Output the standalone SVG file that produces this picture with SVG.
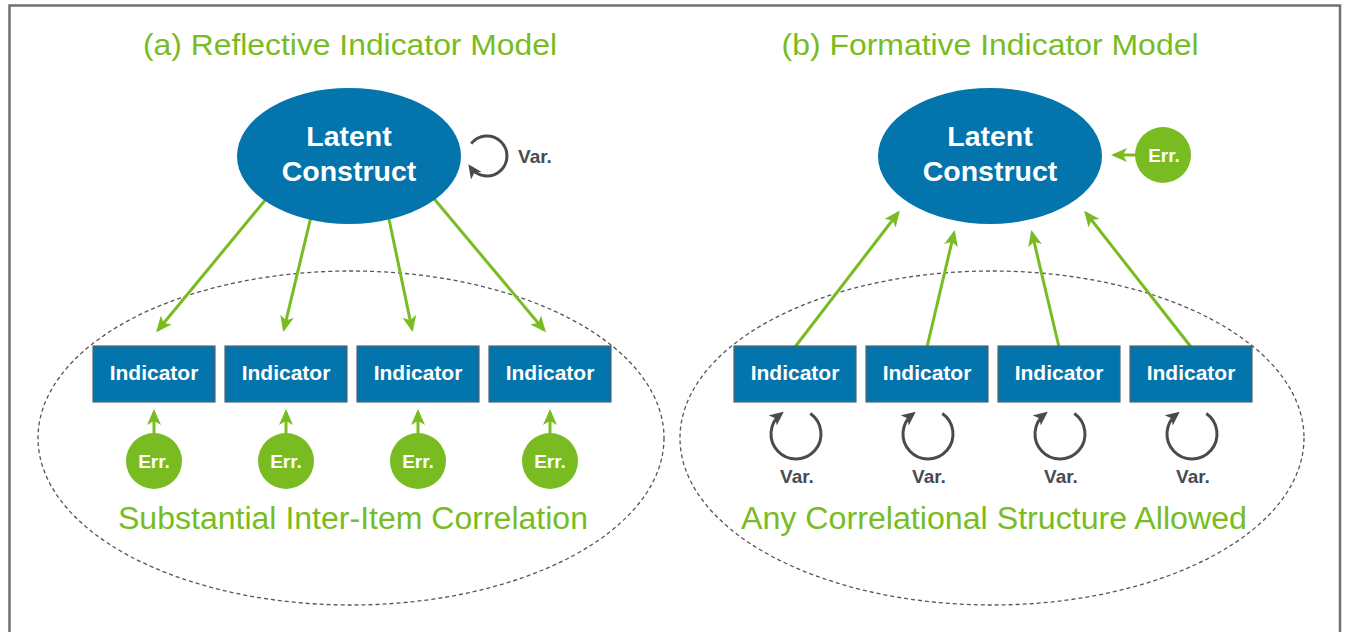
<svg xmlns="http://www.w3.org/2000/svg" width="1345" height="632" viewBox="0 0 1345 632">
<style>
.title{font-family:"Liberation Sans",Arial,sans-serif;font-size:30px;fill:#78bc22;text-anchor:middle}
.foot{font-family:"Liberation Sans",Arial,sans-serif;font-size:31px;fill:#78bc22;text-anchor:middle}
.lat{font-family:"Liberation Sans",Arial,sans-serif;font-weight:bold;font-size:28.5px;fill:#fff;text-anchor:middle}
.ind{font-family:"Liberation Sans",Arial,sans-serif;font-weight:bold;font-size:21px;fill:#fff;text-anchor:middle}
.err{font-family:"Liberation Sans",Arial,sans-serif;font-weight:bold;font-size:19px;fill:#fff;text-anchor:middle}
.var{font-family:"Liberation Sans",Arial,sans-serif;font-weight:bold;font-size:19px;fill:#4a4b4f;text-anchor:middle}
.ell{fill:#0374ac}
.box{fill:#0374ac;stroke:#56646e;stroke-width:1.2}
.errc{fill:#78bc22}
.ga{stroke:#78bc22;stroke-width:3;fill:none;marker-end:url(#ag)}
.loop{stroke:#4a4b4f;stroke-width:3;fill:none;marker-end:url(#ak)}
.dash{fill:none;stroke:#555;stroke-width:1.3;stroke-dasharray:4 3}
</style>
<defs>
<marker id="ag" markerUnits="userSpaceOnUse" markerWidth="16" markerHeight="16" viewBox="0 0 16 16" refX="13" refY="8" orient="auto"><path d="M0,1 L16,8 L0,15 L4,8 Z" fill="#78bc22"/></marker>
<marker id="ak" markerUnits="userSpaceOnUse" markerWidth="14" markerHeight="14" viewBox="0 0 14 14" refX="10" refY="7" orient="auto"><path d="M0,0.5 L14,7 L0,13.5 L3.5,7 Z" fill="#4a4b4f"/></marker>
</defs>
<rect x="9.5" y="5.5" width="1330.5" height="640" fill="#fff" stroke="#707070" stroke-width="2.5"/>
<text class="title" x="350" y="55" textLength="414" lengthAdjust="spacingAndGlyphs">(a) Reflective Indicator Model</text>
<text class="title" x="990" y="55" textLength="417" lengthAdjust="spacingAndGlyphs">(b) Formative Indicator Model</text>
<g id="groupA">
<ellipse class="dash" cx="351" cy="438" rx="313" ry="167"/>
<text class="foot" x="353" y="529" textLength="470" lengthAdjust="spacingAndGlyphs">Substantial Inter-Item Correlation</text>
</g>
<g id="groupB">
<ellipse class="dash" cx="992" cy="438" rx="312" ry="167"/>
<text class="foot" x="994" y="529" textLength="506" lengthAdjust="spacingAndGlyphs">Any Correlational Structure Allowed</text>
</g>
<g id="connectors">
<line class="ga" x1="290" y1="170" x2="158" y2="330"/>
<line class="ga" x1="315" y1="200" x2="284" y2="329"/>
<line class="ga" x1="385" y1="200" x2="412" y2="329"/>
<line class="ga" x1="410" y1="170" x2="544" y2="330"/>
<line class="ga" x1="154" y1="434" x2="154" y2="412"/>
<line class="ga" x1="286" y1="434" x2="286" y2="412"/>
<line class="ga" x1="418" y1="434" x2="418" y2="412"/>
<line class="ga" x1="550" y1="434" x2="550" y2="412"/>
<path class="loop" d="M471.2,143.7 A20,20 0 1 1 470.6,167.5"/>
<line class="ga" x1="795" y1="347" x2="898" y2="213"/>
<line class="ga" x1="927" y1="347" x2="954" y2="233"/>
<line class="ga" x1="1059" y1="347" x2="1032" y2="233"/>
<line class="ga" x1="1191" y1="347" x2="1086" y2="213"/>
<line class="ga" x1="1136" y1="155" x2="1114" y2="155"/>
<path class="loop" d="M810.3,413.5 A25,25 0 1 1 780.6,414.3"/>
<path class="loop" d="M942.3,413.5 A25,25 0 1 1 912.6,414.3"/>
<path class="loop" d="M1074.3,413.5 A25,25 0 1 1 1044.6,414.3"/>
<path class="loop" d="M1206.3,413.5 A25,25 0 1 1 1176.6,414.3"/>
</g>
<g id="latentA">
<ellipse class="ell" cx="349" cy="156" rx="112" ry="68"/>
<text class="lat" x="349" y="146">Latent</text>
<text class="lat" x="349" y="181">Construct</text>
</g>
<text class="var" x="535" y="163">Var.</text>
<g id="latentB">
<ellipse class="ell" cx="990" cy="156" rx="112" ry="68"/>
<text class="lat" x="990" y="146">Latent</text>
<text class="lat" x="990" y="181">Construct</text>
</g>
<g id="errB">
<circle class="errc" cx="1163" cy="155" r="28"/>
<text class="err" x="1164" y="162">Err.</text>
</g>
<g id="indA1"><rect class="box" x="93" y="346" width="122" height="56"/><text class="ind" x="154" y="380">Indicator</text></g>
<g id="indA2"><rect class="box" x="225" y="346" width="122" height="56"/><text class="ind" x="286" y="380">Indicator</text></g>
<g id="indA3"><rect class="box" x="357" y="346" width="122" height="56"/><text class="ind" x="418" y="380">Indicator</text></g>
<g id="indA4"><rect class="box" x="489" y="346" width="122" height="56"/><text class="ind" x="550" y="380">Indicator</text></g>
<g id="errA1"><circle class="errc" cx="154" cy="461" r="28"/><text class="err" x="154" y="468">Err.</text></g>
<g id="errA2"><circle class="errc" cx="286" cy="461" r="28"/><text class="err" x="286" y="468">Err.</text></g>
<g id="errA3"><circle class="errc" cx="418" cy="461" r="28"/><text class="err" x="418" y="468">Err.</text></g>
<g id="errA4"><circle class="errc" cx="550" cy="461" r="28"/><text class="err" x="550" y="468">Err.</text></g>
<g id="indB1"><rect class="box" x="734" y="346" width="122" height="56"/><text class="ind" x="795" y="380">Indicator</text></g>
<g id="indB2"><rect class="box" x="866" y="346" width="122" height="56"/><text class="ind" x="927" y="380">Indicator</text></g>
<g id="indB3"><rect class="box" x="998" y="346" width="122" height="56"/><text class="ind" x="1059" y="380">Indicator</text></g>
<g id="indB4"><rect class="box" x="1130" y="346" width="122" height="56"/><text class="ind" x="1191" y="380">Indicator</text></g>
<text class="var" x="797" y="483">Var.</text>
<text class="var" x="929" y="483">Var.</text>
<text class="var" x="1061" y="483">Var.</text>
<text class="var" x="1193" y="483">Var.</text>
</svg>
